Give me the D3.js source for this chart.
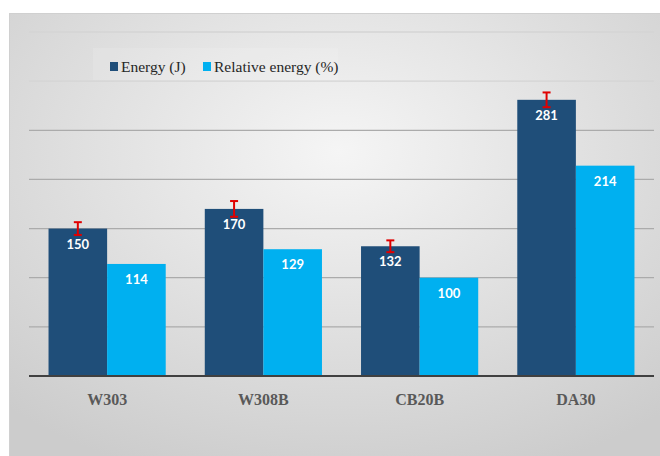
<!DOCTYPE html>
<html lang="en">
<meta charset="utf-8">
<script src="https://d3js.org/d3.v7.min.js"></script>
<style>
    body { margin: 0; background: #fff; }
    .cat { font: bold 16px "Liberation Serif", serif; fill: #595959; }
    .legend { font: 15.5px "Liberation Serif", serif; fill: #262626; }
    .val { font: bold 13px Lato, sans-serif; fill: #fff; }
</style>
<svg id="base" width="660" height="456"></svg>

<script>
    var categories = ["W303", "W308B", "CB20B", "DA30"];
    var seriesNames = ["Energy (J)", "Relative energy (%)"];
    var energy = [150, 170, 132, 281];
    var relative = [114, 129, 100, 214];
    var energyErr = [6.5, 8, 6, 7.5];
    var yTicks = [50, 100, 150, 200, 250, 300, 350];

    var colors = ["#1f4e79", "#00b0f0"];

    var svg = d3.select("#base");

    // panel background
    var defs = svg.append("defs");
    var grad = defs.append("radialGradient")
        .attr("id", "bg")
        .attr("cx", "50%").attr("cy", "30%").attr("r", "75%");
    grad.append("stop").attr("offset", "0%").attr("stop-color", "#f5f5f5");
    grad.append("stop").attr("offset", "100%").attr("stop-color", "#cccccc");

    svg.append("rect")
        .attr("x", 9.5).attr("y", 13.5)
        .attr("width", 660).attr("height", 460)
        .attr("fill", "url(#bg)")
        .attr("stroke", "#d0d0d0");

    var x = d3.scaleBand()
        .domain(categories)
        .range([29, 654])
        .paddingInner(0.25)
        .paddingOuter(0.125);

    var x1 = d3.scaleBand()
        .domain([0, 1])
        .range([0, x.bandwidth()]);

    var y = d3.scaleLinear()
        .domain([0, 350])
        .range([376, 32]);

    // gridlines
    svg.append("g")
        .selectAll("line")
        .data(yTicks)
        .enter()
        .append("line")
        .attr("x1", 29).attr("x2", 654)
        .attr("y1", function (d) { return y(d); })
        .attr("y2", function (d) { return y(d); })
        .attr("stroke", function (d) { return d >= 300 ? "#d4d4d4" : "#ababab"; })
        .attr("stroke-width", 1.3);

    // faint legend box
    svg.append("rect")
        .attr("x", 93).attr("y", 48)
        .attr("width", 245).attr("height", 32)
        .attr("fill", "#ffffff").attr("opacity", 0.12);

    var rows = categories.map(function (c, i) {
        return { cat: c, vals: [energy[i], relative[i]], err: energyErr[i] };
    });

    var groups = svg.append("g")
        .selectAll("g")
        .data(rows)
        .enter()
        .append("g")
        .attr("transform", function (d) { return "translate(" + x(d.cat) + ",0)"; });

    groups.selectAll("rect")
        .data(function (d) { return d.vals.map(function (v, k) { return { k: k, v: v }; }); })
        .enter()
        .append("rect")
        .attr("x", function (d) { return x1(d.k); })
        .attr("width", x1.bandwidth())
        .attr("y", function (d) { return y(d.v); })
        .attr("height", function (d) { return y(0) - y(d.v); })
        .attr("fill", function (d) { return colors[d.k]; });

    groups.selectAll("text.val")
        .data(function (d) { return d.vals.map(function (v, k) { return { k: k, v: v }; }); })
        .enter()
        .append("text")
        .attr("class", "val")
        .attr("text-anchor", "middle")
        .attr("x", function (d) { return x1(d.k) + x1.bandwidth() / 2; })
        .attr("y", function (d) { return y(d.v) + 20; })
        .text(function (d) { return d.v; });

    // error bars on energy
    var eb = groups.append("g")
        .attr("stroke", "#e00000")
        .attr("stroke-width", 2);
    eb.append("line")
        .attr("x1", x1.bandwidth() / 2).attr("x2", x1.bandwidth() / 2)
        .attr("y1", function (d) { return y(d.vals[0] + d.err); })
        .attr("y2", function (d) { return y(d.vals[0] - d.err); });
    eb.append("line")
        .attr("x1", x1.bandwidth() / 2 - 4).attr("x2", x1.bandwidth() / 2 + 4)
        .attr("y1", function (d) { return y(d.vals[0] + d.err); })
        .attr("y2", function (d) { return y(d.vals[0] + d.err); });
    eb.append("line")
        .attr("x1", x1.bandwidth() / 2 - 4).attr("x2", x1.bandwidth() / 2 + 4)
        .attr("y1", function (d) { return y(d.vals[0] - d.err); })
        .attr("y2", function (d) { return y(d.vals[0] - d.err); });

    // baseline
    svg.append("line")
        .attr("x1", 29).attr("x2", 654)
        .attr("y1", y(0)).attr("y2", y(0))
        .attr("stroke", "#404040")
        .attr("stroke-width", 2);

    // category labels
    svg.append("g")
        .selectAll("text")
        .data(categories)
        .enter()
        .append("text")
        .attr("class", "cat")
        .attr("text-anchor", "middle")
        .attr("x", function (d) { return x(d) + x.bandwidth() / 2; })
        .attr("y", 405)
        .text(function (d) { return d; });

    // legend
    var legX = [110, 203];
    var leg = svg.append("g")
        .selectAll("g")
        .data(seriesNames)
        .enter()
        .append("g")
        .attr("transform", function (d, i) { return "translate(" + legX[i] + ",62)"; });
    leg.append("rect")
        .attr("width", 8).attr("height", 9)
        .attr("fill", function (d, i) { return colors[i]; });
    leg.append("text")
        .attr("class", "legend")
        .attr("x", 11).attr("y", 10)
        .text(function (d) { return d; });
</script>
</html>
